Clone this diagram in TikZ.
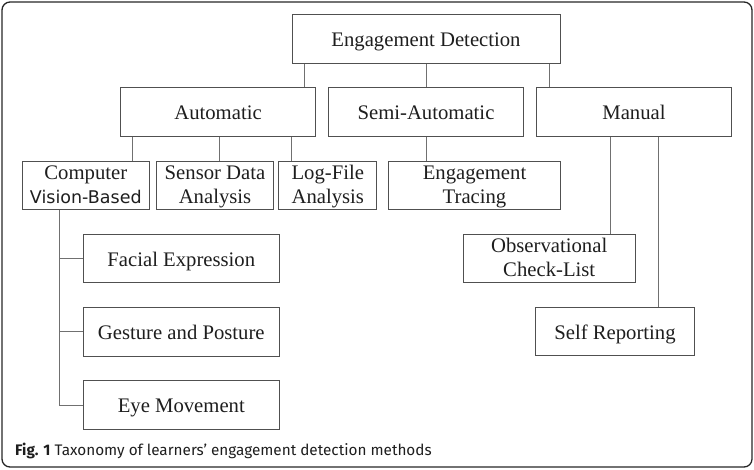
\documentclass[tikz,border=0pt]{standalone}
\usepackage{fontspec}
\setmainfont{Liberation Serif}
\newfontfamily\capfont{Fira Sans}
\newfontfamily\vbfont{DejaVu Sans}
\definecolor{boxline}{HTML}{505050}
\definecolor{linkline}{HTML}{707070}
\definecolor{inktext}{HTML}{1E1E1E}
\begin{document}
\begin{tikzpicture}[x=1pt,y=-1pt,
  box/.style={draw=boxline,line width=1pt,inner sep=0pt,align=center,
    text=inktext,font=\fontsize{20.7}{24}\selectfont,minimum height=48.5pt},
  oneline/.style={box,text height=15.4pt,text depth=0pt},
  twoline/.style={box,text height=35.6pt,text depth=0pt},
  link/.style={draw=linkline,line width=1pt}]
\useasboundingbox (0,0) rectangle (754,469);
% outer frame
\draw[line width=1.3pt,rounded corners=8pt,draw=black!85] (2,2) rectangle (752,467);

% level 0 and 1
\node[oneline,minimum width=268pt]   (ed)     at (426,39)    {Engagement Detection};
\node[oneline,minimum width=195.4pt] (auto)   at (218,112)   {Automatic};
\node[oneline,minimum width=195.4pt] (semi)   at (426,112)   {Semi-Automatic};
\node[oneline,minimum width=195.4pt] (manual) at (634,112)   {Manual};

% level 2
\node[twoline,minimum width=127pt]   (cvb)    at (85.8,185.5)  {Computer\\{\vbfont\fontsize{17.5}{24}\selectfont Vision-Based}};
\node[twoline,minimum width=116.6pt] (sensor) at (215,185.5)   {Sensor Data\\Analysis};
\node[twoline,minimum width=97.7pt]  (logf)   at (327.8,185.5) {Log-File\\Analysis};
\node[twoline,minimum width=172.4pt] (trace)  at (474.5,185.5) {Engagement\\Tracing};
\node[twoline,minimum width=171.7pt] (obs)    at (549.2,258.3) {Observational\\Check-List};
\node[oneline,minimum width=158.6pt] (self)   at (615,331.7)   {Self Reporting};

% computer vision branches
\node[oneline,minimum width=196pt] (facial)  at (181.3,258.3) {Facial Expression};
\node[oneline,minimum width=196pt] (gesture) at (181.3,331.8) {Gesture and Posture};
\node[oneline,minimum width=196pt] (eye)     at (181.3,405)   {Eye Movement};

% connectors
\draw[link] (304,0 |- ed.south)   -- (304,0 |- auto.north);
\draw[link] (426.6,0 |- ed.south) -- (426.6,0 |- semi.north);
\draw[link] (549,0 |- ed.south)   -- (549,0 |- manual.north);

\draw[link] (132.9,0 |- auto.south) -- (132.9,0 |- cvb.north);
\draw[link] (219,0 |- auto.south)   -- (219,0 |- sensor.north);
\draw[link] (291.8,0 |- auto.south) -- (291.8,0 |- logf.north);

\draw[link] (426.6,0 |- semi.south) -- (426.6,0 |- trace.north);

\draw[link] (610,0 |- manual.south) -- (610,0 |- obs.north);
\draw[link] (658,0 |- manual.south) -- (658,0 |- self.north);

\coordinate (trunk) at (59.3,0 |- cvb.south);
\draw[link] (trunk) -- (trunk |- eye.west) -- (eye.west);
\draw[link] (trunk |- facial.west) -- (facial.west);
\draw[link] (trunk |- gesture.west) -- (gesture.west);

% caption
\node[anchor=base west,inner sep=0pt,text=inktext,font=\capfont\fontsize{15.3}{18}\selectfont] (cap) at (15,455)
  {\textbf{Fig. 1} Taxonomy of learners’ engagement detection methods};
\end{tikzpicture}
\end{document}
